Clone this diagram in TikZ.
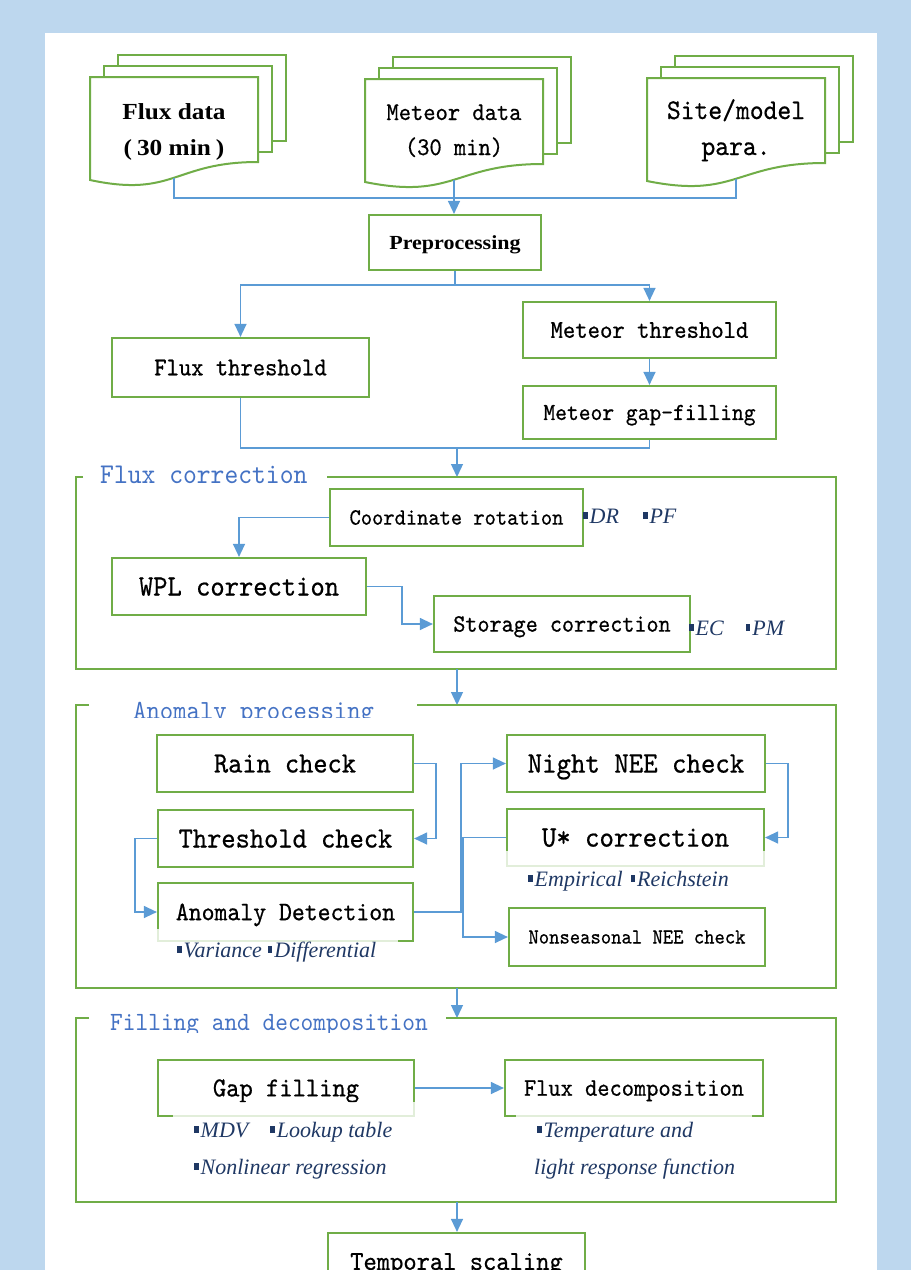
\documentclass[tikz,border=0pt]{standalone}
\usepackage{fontspec}
\usetikzlibrary{arrows.meta}
\newfontfamily\monof[FakeStretch=0.92,FakeBold=0.6]{lmmono10-regular.otf}
\newfontfamily\titlef[FakeStretch=0.92]{lmmono10-regular.otf}
\newfontfamily\serifb[FakeStretch=1.1]{Liberation Serif}
\newfontfamily\serifi{Liberation Serif}
\definecolor{bgblue}{HTML}{BDD7EE}
\definecolor{boxgreen}{HTML}{70AD47}
\definecolor{linkblue}{HTML}{5B9BD5}
\definecolor{titleblue}{HTML}{4472C4}
\definecolor{labnavy}{HTML}{1F3864}
\newcommand\fsz[1]{\fontsize{#1pt}{#1pt}\selectfont}
\newcommand\bul{\rule[4.5pt]{4.5pt}{6.5pt}\hspace{2pt}}
\tikzset{
  stepbox/.style={draw=boxgreen,line width=2.2pt,fill=white,inner sep=0pt,text depth=0pt},
  conn/.style={draw=linkblue,line width=1.3pt},
  arr/.style={conn,-{Triangle[length=13pt,width=12pt]}},
  frame/.style={draw=boxgreen,line width=2pt},
  docline/.style={draw=boxgreen,line width=2pt,fill=white,line join=miter},
  lab/.style={inner sep=0pt,text=labnavy,font=\serifi\itshape\fsz{22},anchor=base west},
  ttl/.style={inner sep=0pt,text=titleblue,anchor=base west},
  doctext/.style={inner sep=0pt,anchor=base},
  fade/.style={fill=white,opacity=0.8},
}
\newcommand\bx[7]{%
  \node[stepbox,minimum width={#4-#2},minimum height={#5-#3},text height={0.611*#6pt},font=\monof\fsz{#6}]
    (#1) at ({(#2+#4)/2},{(#3+#5)/2}) {#7};}
\newcommand\docstack[4]{%
  \draw[docline] ({#2+28},{#4-22}) rectangle ({#3+28},{#4+64});
  \draw[docline] ({#2+14},{#4-11}) rectangle ({#3+14},{#4+75});
  \draw[docline] (#2,#4) -- (#3,#4) -- (#3,{#4+85})
     .. controls ({(#2+#3)/2},{#4+85}) and ({(#2+#3)/2},{#4+121}) .. (#2,{#4+103}) -- cycle;
  \coordinate (#1) at ({(#2+#3)/2},{#4+101});}
\begin{document}
\begin{tikzpicture}[x=1pt,y=-1pt]
\clip (0,0) rectangle (911,1270);
\fill[bgblue] (0,0) rectangle (911,1270);
\fill[white] (45,33) rectangle (877,1270);

% ---------- input documents ----------
\docstack{fluxdoc}{90}{258}{77}
\node[doctext,font=\serifb\bfseries\fsz{23}] (fluxt1) at (174,119) {Flux data};
\node[doctext,font=\serifb\bfseries\fsz{23}] (fluxt2) at (174,155) {(\hspace{5pt}30 min\hspace{5pt})};
\docstack{metdoc}{365}{543}{79}
\node[doctext,font=\monof\fsz{25.4}] (mett1) at (454,120) {Meteor data};
\node[doctext,font=\monof\fsz{25.4}] (mett2) at (454,155) {(30 min)};
\docstack{sitedoc}{647}{825}{78}
\node[doctext,font=\monof\fsz{28.6}] (sitet1) at (736,119) {Site/model};
\node[doctext,font=\monof\fsz{28.6}] (sitet2) at (736,155) {para.};

% ---------- preprocessing ----------
\node[stepbox,minimum width=172,minimum height=55,text height={0.662*20pt},font=\serifb\bfseries\fsz{20}] (prep) at (455,242.5) {Preprocessing};
\coordinate (j1) at (455,198);
\draw[conn] (fluxdoc) |- (j1) -| (sitedoc);
\draw[arr] (metdoc) -- (metdoc |- prep.north);

\bx{fluxth}{112}{338}{369}{397}{25.5}{Flux threshold}
\bx{metth}{523}{302}{776}{358}{25.6}{Meteor threshold}
\bx{metgf}{523}{386}{776}{439}{24.4}{Meteor gap-filling}
\coordinate (j2) at (455,285);
\draw[conn] (prep.south) -- (j2);
\draw[arr] (j2) -| (fluxth.north);
\draw[arr] (j2) -| (metth.north);
\draw[arr] (metth) -- (metgf);
\coordinate (j3) at (457,448);
\draw[conn] (fluxth.south) |- (j3) -| (metgf.south);
\coordinate (fctop) at (457,477);
\draw[arr] (j3) -- (fctop);

% ---------- flux correction ----------
\draw[frame] (83,477) -- (76,477) -- (76,669) -- (836,669) -- (836,477) -- (327,477);
\node[ttl,font=\titlef\fsz{28.6}] (fctitle) at (100,483) {Flux correction};
\bx{corot}{330}{489}{583}{546}{23.3}{Coordinate rotation}
\bx{wpl}{112}{558}{366}{615}{29.6}{WPL correction}
\bx{stor}{434}{596}{690}{652}{25}{Storage correction}
\draw[arr] (corot.west) -| (wpl.north);
\draw[arr] (wpl.east) -- ++(35,0) |- (stor.west);
\node[lab] (drpf) at (583,523) {\bul DR\hspace{24pt}\bul PF};
\node[lab] (ecpm) at (689,635) {\bul EC\hspace{22pt}\bul PM};
\coordinate (fcbot) at (457,669);
\coordinate (aptop) at (457,705);
\draw[arr] (fcbot) -- (aptop);

% ---------- anomaly processing ----------
\draw[frame] (89,705) -- (76,705) -- (76,988) -- (836,988) -- (836,705) -- (417,705);
\begin{scope}
\clip (100,680) rectangle (420,717.5);
\node[ttl,font=\titlef\fsz{27.7}] (aptitle) at (133,719) {Anomaly processing};
\end{scope}
\bx{rain}{157}{735}{413}{792}{29.4}{Rain check}
\bx{thr}{158}{810}{413}{867}{29.5}{Threshold check}
\bx{adet}{158}{883}{413}{941}{26.7}{Anomaly Detection}
\bx{night}{507}{735}{765}{792}{29.9}{Night NEE check}
\bx{ustar}{507}{809}{764}{866}{29.8}{U* correction}
\bx{nons}{509}{908}{765}{966}{21.4}{Nonseasonal NEE check}
\fill[fade] (156,929) rectangle (398,944);
\fill[fade] (505,851) rectangle (768,869);
\draw[arr] (rain.east) -- ++(22,0) |- (thr.east);
\draw[arr] (thr.west) -- ++(-22,0) |- (adet.west);
\draw[arr] (adet.east) -- ++(47,0) |- (night.west);
\draw[arr] (night.east) -- ++(22,0) |- (ustar.east);
\draw[arr] (ustar.west) -- ++(-43,0) |- (nons.west);
\node[lab] (vardif) at (177,957) {\bul Variance\hspace{6pt}\bul Differential};
\node[lab] (empre) at (528,886) {\bul Empirical\hspace{8pt}\bul Reichstein};
\coordinate (apbot) at (457,988);
\coordinate (fdtop) at (457,1018);
\draw[arr] (apbot) -- (fdtop);

% ---------- filling and decomposition ----------
\draw[frame] (89,1018) -- (76,1018) -- (76,1202) -- (836,1202) -- (836,1018) -- (446,1018);
\begin{scope}
\clip (100,995) rectangle (440,1032);
\node[ttl,font=\titlef\fsz{26.3}] (fdtitle) at (110,1030) {Filling and decomposition};
\end{scope}
\bx{gapf}{158}{1060}{414}{1116}{27.5}{Gap filling}
\bx{fdec}{505}{1060}{763}{1116}{25.3}{Flux decomposition}
\fill[fade] (173,1102) rectangle (418,1119);
\fill[fade] (516,1110) rectangle (752,1120);
\draw[arr] (gapf.east) -- (fdec.west);
\node[lab] (mdv) at (194,1137) {\bul MDV\hspace{22pt}\bul Lookup table};
\node[lab] (nlr) at (194,1174) {\bul Nonlinear regression};
\node[lab] (tempand) at (537,1137) {\bul Temperature and};
\node[lab] (lrf) at (534,1174) {light response function};
\coordinate (fdbot) at (457,1202);

% ---------- temporal scaling ----------
\bx{temp}{328}{1233}{585}{1290}{27.5}{Temporal scaling}
\draw[arr] (fdbot) -- (fdbot |- temp.north);
\end{tikzpicture}
\end{document}
